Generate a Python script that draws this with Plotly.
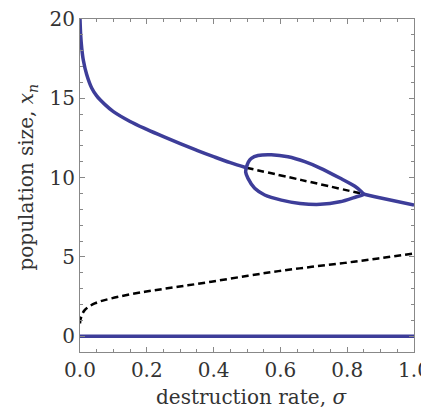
import plotly.graph_objects as go

# Upper stable branch (left part)
upper_sigma = [0.0, 0.002, 0.005, 0.01, 0.02, 0.035, 0.05, 0.075, 0.1, 0.15, 0.2, 0.25, 0.3, 0.35, 0.4, 0.45, 0.498]
upper_x = [20.0, 19.0, 18.2, 17.4, 16.5, 15.65, 15.15, 14.6, 14.16, 13.54, 13.04, 12.58, 12.14, 11.72, 11.32, 10.94, 10.62]

# Loop (closed orbit of stable branch)
loop_sigma = [0.498, 0.504, 0.513, 0.533, 0.573, 0.623, 0.673, 0.719, 0.778, 0.823, 0.842, 0.85,
              0.828, 0.778, 0.719, 0.659, 0.603, 0.553, 0.523, 0.503, 0.496, 0.498]
loop_x = [10.62, 10.98, 11.21, 11.39, 11.44, 11.31, 11.0, 10.6, 9.97, 9.45, 9.12, 8.94,
          8.79, 8.47, 8.31, 8.37, 8.58, 8.9, 9.32, 9.95, 10.35, 10.62]

# Upper stable branch (right part)
right_sigma = [0.848, 0.883, 1.0]
right_x = [8.96, 8.79, 8.26]

# Unstable middle branch inside the loop
mid_sigma = [0.498, 0.664, 0.845]
mid_x = [10.62, 9.84, 8.98]

# Lower unstable branch
low_sigma = [0.0, 0.002, 0.014, 0.044, 0.094, 0.194, 0.293, 0.393, 0.503, 0.594, 0.694, 0.793, 0.893, 1.0]
low_x = [0.8, 1.1, 1.64, 2.06, 2.38, 2.8, 3.11, 3.43, 3.81, 4.1, 4.37, 4.62, 4.9, 5.22]

# Extinction branch
zero_sigma = [0.0, 1.0]
zero_x = [0.0, 0.0]

x_ticks = [0.0, 0.2, 0.4, 0.6, 0.8, 1.0]
x_ticklabels = ["0.0", "0.2", "0.4", "0.6", "0.8", "1.0"]
y_ticks = [0, 5, 10, 15, 20]
y_ticklabels = ["0", "5", "10", "15", "20"]
x_title = "destruction rate, <i>σ</i>"
y_title = "population size, <i>x<sub>n</sub></i>"

BLUE = "#3d3d99"
dash = "7px,4px"

fig = go.Figure()
fig.add_trace(go.Scatter(x=low_sigma, y=low_x, mode="lines", line=dict(color="black", width=2.5, dash=dash, shape="spline")))
fig.add_trace(go.Scatter(x=mid_sigma, y=mid_x, mode="lines", line=dict(color="black", width=2.5, dash=dash, shape="spline")))
fig.add_trace(go.Scatter(x=zero_sigma, y=zero_x, mode="lines", line=dict(color=BLUE, width=3.5)))
fig.add_trace(go.Scatter(x=upper_sigma, y=upper_x, mode="lines", line=dict(color=BLUE, width=3.5, shape="spline", smoothing=1.0)))
fig.add_trace(go.Scatter(x=loop_sigma, y=loop_x, mode="lines", line=dict(color=BLUE, width=3.5, shape="spline", smoothing=0.8)))
fig.add_trace(go.Scatter(x=right_sigma, y=right_x, mode="lines", line=dict(color=BLUE, width=3.5, shape="spline")))

font = dict(family="DejaVu Serif, serif", size=20, color="#333333")
axcommon = dict(showgrid=False, zeroline=False, showline=True, linecolor="#888888", linewidth=1,
                mirror="allticks", ticks="inside", ticklen=5, tickcolor="#888888", tickfont=font,
                automargin=False, ticklabeloverflow="allow")

fig.update_xaxes(range=[0, 1], tickvals=x_ticks, ticktext=x_ticklabels,
                 minor=dict(dtick=0.05, ticks="inside", ticklen=3, tickcolor="#888888", showgrid=False),
                 **axcommon)
fig.update_yaxes(range=[-1, 20], tickvals=y_ticks, ticktext=y_ticklabels,
                 minor=dict(dtick=1, tick0=0, ticks="inside", ticklen=3, tickcolor="#888888", showgrid=False),
                 **axcommon)

fig.add_annotation(text=x_title, xref="paper", yref="paper", x=0.5, y=0, xshift=4, yshift=-45,
                   xanchor="center", yanchor="middle", showarrow=False, font=font)
fig.add_annotation(text=y_title, xref="paper", yref="paper", x=0, y=0.524, xshift=-53,
                   xanchor="center", yanchor="middle", textangle=-90, showarrow=False, font=font)

# page body adds an 8px margin, so the figure is sized to fit the 429x413 window
fig.update_layout(width=421, height=405, margin=dict(l=72, r=15, t=11, b=61),
                  plot_bgcolor="white", paper_bgcolor="white", showlegend=False, font=font)
fig.write_html("out.html")
